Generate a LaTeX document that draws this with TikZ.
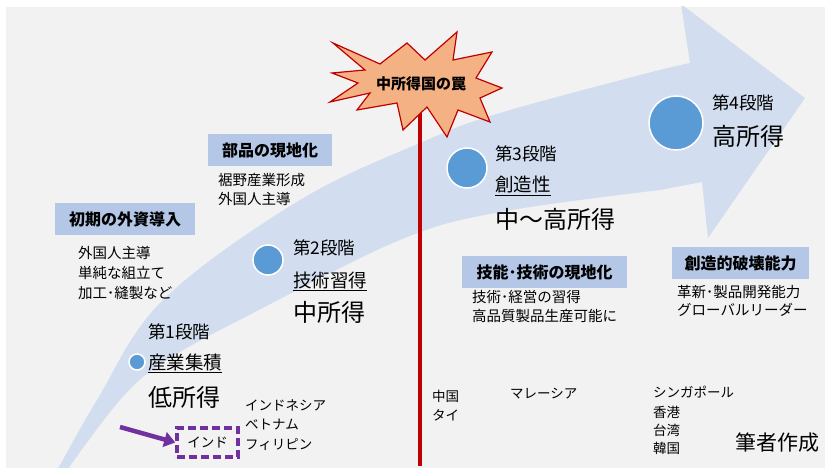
\documentclass[tikz,border=0pt]{standalone}
\usepackage{fontspec}
\setmainfont{Noto Sans CJK JP}
\usetikzlibrary{arrows.meta}
\definecolor{bgc}{HTML}{F2F2F2}
\definecolor{bandc}{HTML}{D2DEEF}
\definecolor{hdrc}{HTML}{B4C7E7}
\definecolor{dotc}{HTML}{5B9BD5}
\definecolor{trapc}{HTML}{C00000}
\definecolor{burstc}{HTML}{F4B183}
\definecolor{purpc}{HTML}{7030A0}
\begin{document}
\begin{tikzpicture}[x=1pt,y=-1pt,
  hdrbox/.style={fill=hdrc, inner sep=0pt, minimum height=32pt, font=\fontsize{16}{18}\selectfont\bfseries},
  subtxt/.style={anchor=base west, inner sep=0pt, font=\fontsize{14.5}{16}\selectfont},
  ctry/.style={anchor=base west, inner sep=0pt, font=\fontsize{13.5}{16}\selectfont},
  stagetxt/.style={anchor=base west, inner sep=0pt, font=\fontsize{17.5}{20}\selectfont},
  keytxt/.style={anchor=base west, inner sep=0pt, font=\fontsize{18.5}{22}\selectfont},
  inctxt/.style={anchor=base west, inner sep=0pt, font=\fontsize{24}{28}\selectfont},
  dotnode/.style={circle, fill=dotc, draw=white, line width=1.5pt, inner sep=0pt}
]
\useasboundingbox (0,0) rectangle (825,468);
\fill[white] (0,0) rectangle (825,468);
\fill[bgc] (6,7) rectangle (825,468);

% big curved arrow
\begin{scope}
\clip (6,7) rectangle (825,468);
\fill[bandc] plot[smooth, tension=0.6] coordinates {(52,480) (97,400) (163,300) (300,200) (427,140) (500,113) (640,75) (690,63)}
  -- (681,4) -- (805,98) -- (708,238) -- (702,182)
  -- plot[smooth, tension=0.6] coordinates {(660,190) (500,212) (400,240) (253,313) (167,360) (120,400) (60,480)} -- cycle;
\end{scope}

% trap line and burst
\coordinate (trapTop) at (420,100);
\coordinate (trapBot) at (420,466);
\draw[trapc, line width=4pt] (trapTop) -- (trapBot);
\filldraw[fill=burstc, draw=trapc, line width=1.2pt, line join=miter]
  (333,43) -- (380,64) -- (407,43) -- (425,60) -- (457,32) -- (453,60) -- (492,52) -- (476,78)
  -- (502,88) -- (480,98) -- (490,122) -- (458,110) -- (447,137) -- (427,107) -- (403,130)
  -- (397,103) -- (357,110) -- (370,93) -- (330,102) -- (358,83) -- (332,73) -- (365,70) -- cycle;
\node[inner sep=0pt, font=\fontsize{15}{18}\selectfont\bfseries] (trap) at (421,84) {中所得国の罠};

% header boxes
\node[hdrbox, minimum width=140pt] (h1) at (125,219) {初期の外資導入};
\node[hdrbox, minimum width=124pt] (h2) at (270,150) {部品の現地化};
\node[hdrbox, minimum width=165pt] (h3) at (544.5,272) {技能･技術の現地化};
\node[hdrbox, minimum width=137pt] (h4) at (740.5,263) {創造的破壊能力};

% sub texts
\node[subtxt] (t1a) at (78,258.8) {外国人主導};
\node[subtxt] (t1b) at (78,278.6) {単純な組立て};
\node[subtxt] (t1c) at (78,298.2) {加工･縫製など};
\node[subtxt] (t2a) at (218,185.5) {裾野産業形成};
\node[subtxt] (t2b) at (218,204.5) {外国人主導};
\node[subtxt] (t3a) at (472,302.5) {技術･経営の習得};
\node[subtxt] (t3b) at (472,321.5) {高品質製品生産可能に};
\node[subtxt] (t4a) at (677,297.5) {革新･製品開発能力};
\node[subtxt] (t4b) at (677,315.5) {グローバルリーダー};

% stage dots
\node[dotnode, minimum size=16pt] (d1) at (137,362) {};
\node[dotnode, minimum size=30pt] (d2) at (268,260) {};
\node[dotnode, minimum size=40pt] (d3) at (467,168) {};
\node[dotnode, minimum size=54pt] (d4) at (676,123) {};

% stage texts
\node[stagetxt] (s1a) at (148,338.7) {第1段階};
\node[keytxt] (s1b) at (148,369) {\underline{産業集積}};
\node[inctxt] (s1c) at (148,406) {低所得};
\node[stagetxt] (s2a) at (293,254.7) {第2段階};
\node[keytxt] (s2b) at (293,287) {\underline{技術習得}};
\node[inctxt] (s2c) at (293,321) {中所得};
\node[stagetxt] (s3a) at (495,160.5) {第3段階};
\node[keytxt] (s3b) at (495,192) {\underline{創造性}};
\node[inctxt] (s3c) at (495,228) {中～高所得};
\node[stagetxt] (s4a) at (712,109.7) {第4段階};
\node[inctxt] (s4b) at (712,146) {高所得};

% countries
\node[ctry] (c1a) at (245,410.1) {インドネシア};
\node[ctry] (c1b) at (245,429.1) {ベトナム};
\node[ctry] (c1c) at (245,449.1) {フィリピン};
\node[draw=purpc, dash pattern=on 8pt off 4pt, line width=3.5pt, minimum width=61pt, minimum height=29pt, inner sep=0pt, font=\fontsize{13.5}{16}\selectfont] (india) at (207.5,442.5) {インド};
\coordinate (arrStart) at (120,427);
\draw[purpc, line width=4.5pt, -{Triangle[length=11pt, width=15pt]}] (arrStart) -- (india.west);
\node[ctry] (c2a) at (432,401.1) {中国};
\node[ctry] (c2b) at (432,420.1) {タイ};
\node[ctry] (c3a) at (510,398.1) {マレーシア};
\node[ctry] (c4a) at (653,397.1) {シンガポール};
\node[ctry] (c4b) at (653,417.1) {香港};
\node[ctry] (c4c) at (653,435.1) {台湾};
\node[ctry] (c4d) at (653,453.1) {韓国};
\node[anchor=base west, inner sep=0pt, font=\fontsize{21}{24}\selectfont] (src) at (735,450) {筆者作成};
\end{tikzpicture}
\end{document}
